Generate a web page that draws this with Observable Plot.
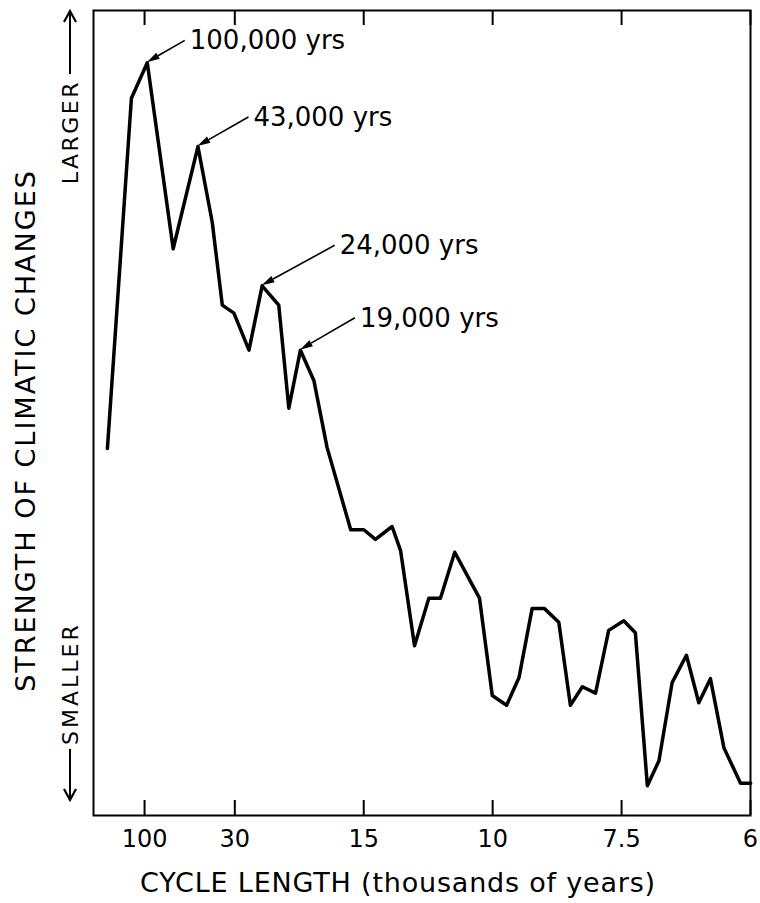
<!DOCTYPE html>
<html>
<head>
<meta charset="utf-8">
<script src="https://cdn.jsdelivr.net/npm/d3@7"></script>
<script src="https://cdn.jsdelivr.net/npm/@observablehq/plot@0.6"></script>
<style>
  html, body { margin: 0; padding: 0; background: #fff; }
</style>
</head>
<body>
<div id="chart"></div>
<script>
// Frequency (cycles per thousand years) of each spectral estimate
const frequency = [
  0.0004, 0.0066, 0.0107, 0.0174, 0.0238, 0.0275, 0.0301, 0.0331, 0.0370, 0.0404,
  0.0447, 0.0473, 0.0503, 0.0538, 0.0572, 0.0633, 0.0667, 0.0697, 0.0740, 0.0762,
  0.0798, 0.0835, 0.0865, 0.0902, 0.0939, 0.0966, 0.0999, 0.1036, 0.1068, 0.1102,
  0.1134, 0.1171, 0.1201, 0.1232, 0.1266, 0.1300, 0.1339, 0.1369, 0.1400, 0.1430,
  0.1464, 0.1501, 0.1533, 0.1563, 0.1598, 0.1641, 0.1667
];
// Strength of climatic changes (arbitrary units, 0 = bottom of frame, 100 = top)
const strength = [
  45.6, 89.1, 93.5, 70.4, 83.1, 73.7, 63.4, 62.4, 57.8, 65.8,
  63.4, 50.6, 57.8, 54.0, 45.7, 35.5, 35.5, 34.3, 35.9, 32.9,
  21.1, 27.0, 27.0, 32.7, 29.4, 27.0, 14.9, 13.7, 17.1, 25.7,
  25.7, 24.0, 13.7, 16.0, 15.2, 23.0, 24.2, 22.7, 3.7, 6.8,
  16.5, 19.9, 14.0, 17.0, 8.4, 4.0, 4.0
];
// Axis ticks: cycle length in thousands of years (frequency = 1 / length)
const tickLengths = [100, 30, 15, 10, 7.5, 6];
const tickLabels = ["100", "30", "15", "10", "7.5", "6"];
// Annotated peaks
const peakFrequencies = [0.0107, 0.0238, 0.0404, 0.0503];
const peakStrengths = [93.5, 83.1, 65.8, 57.8];
const peakLabels = ["100,000 yrs", "43,000 yrs", "24,000 yrs", "19,000 yrs"];
// Axis titles
const xTitle = "CYCLE LENGTH (thousands of years)";
const yTitle = "STRENGTH OF CLIMATIC CHANGES";

const points = frequency.map((f, i) => ({f, s: strength[i]}));
const tickFrequencies = tickLengths.map(d => 1 / d);
const labelFor = new Map(tickFrequencies.map((f, i) => [f, tickLabels[i]]));

// pixel offsets (arrow tail relative to peak) – styling of the callouts
const tailOffsets = [[38, -22], [51, -29], [73, -40], [55, -32]];

const callouts = (index, scales) => {
  const g = d3.create("svg:g");
  peakFrequencies.forEach((f, i) => {
    const px = scales.x(f), py = scales.y(peakStrengths[i]);
    const [ox, oy] = tailOffsets[i];
    const x1 = px + ox, y1 = py + oy;
    const ang = Math.atan2(py - y1, px - x1);
    const L = 13, W = 3.5;
    const bx = px - L * Math.cos(ang), by = py - L * Math.sin(ang);
    const nx = -Math.sin(ang), ny = Math.cos(ang);
    g.append("line")
      .attr("x1", x1).attr("y1", y1).attr("x2", bx).attr("y2", by)
      .attr("stroke", "black").attr("stroke-width", 1.6);
    g.append("path")
      .attr("d", `M${px},${py}L${bx + nx * W},${by + ny * W}L${bx - nx * W},${by - ny * W}Z`)
      .attr("fill", "black");
    g.append("text")
      .attr("x", x1 + 5).attr("y", y1)
      .attr("dy", "0.35em")
      .attr("text-anchor", "start")
      .attr("font-size", 26)
      .attr("fill", "black")
      .text(peakLabels[i]);
  });
  return g.node();
};

// Axis titles and "LARGER" / "SMALLER" side labels with long arrows
const titles = (index, scales, values, dimensions) => {
  const g = d3.create("svg:g").attr("fill", "black");
  const x = dimensions.marginLeft - 23;
  const top = scales.y(100), bottom = scales.y(0);
  const arrow = (y0, y1) => {
    const dir = Math.sign(y1 - y0);
    g.append("line").attr("x1", x).attr("y1", y0).attr("x2", x).attr("y2", y1)
      .attr("stroke", "black").attr("stroke-width", 2);
    g.append("path")
      .attr("d", `M${x - 6},${y1 - dir * 11}L${x},${y1}L${x + 6},${y1 - dir * 11}`)
      .attr("fill", "none").attr("stroke", "black").attr("stroke-width", 2.2);
  };
  arrow(top + 64, top + 1);
  arrow(bottom - 66, bottom - 15);
  g.append("text")
    .attr("transform", `translate(${x},${top + 70}) rotate(-90)`)
    .attr("text-anchor", "end").attr("dy", "0.35em")
    .attr("font-size", 22).attr("letter-spacing", "2.5px")
    .text("LARGER");
  g.append("text")
    .attr("transform", `translate(${x},${bottom - 70}) rotate(-90)`)
    .attr("text-anchor", "start").attr("dy", "0.35em")
    .attr("font-size", 22).attr("letter-spacing", "3px")
    .text("SMALLER");
  // y title (rotated)
  g.append("text")
    .attr("transform", `translate(${dimensions.marginLeft - 67},${(top + bottom) / 2 + 18}) rotate(-90)`)
    .attr("text-anchor", "middle").attr("dy", "0.35em")
    .attr("font-size", 27).attr("letter-spacing", "2px")
    .text(yTitle);
  // x title
  g.append("text")
    .attr("x", 398).attr("y", bottom + 68)
    .attr("text-anchor", "middle").attr("dy", "0.35em")
    .attr("font-size", 27).attr("letter-spacing", "0.8px")
    .text(xTitle);
  return g.node();
};

const chart = Plot.plot({
  width: 760,
  height: 903,
  marginLeft: 93,
  marginRight: 10,
  marginTop: 10,
  marginBottom: 88,
  style: {fontFamily: "DejaVu Sans", background: "#fff", color: "black"},
  x: {domain: [-0.0032, 1 / 6], axis: null},
  y: {domain: [0, 100], axis: null},
  marks: [
    Plot.frame({stroke: "black", strokeWidth: 2}),
    Plot.tickX(tickFrequencies, {x: d => d, insetTop: 790, stroke: "black", strokeWidth: 2}),
    Plot.tickX(tickFrequencies, {x: d => d, insetBottom: 790, stroke: "black", strokeWidth: 2}),
    Plot.axisX({
      anchor: "bottom", ticks: tickFrequencies, tickSize: 0, tickPadding: 14,
      tickFormat: d => labelFor.get(d), fontSize: 24, label: null
    }),
    titles,
    Plot.line(points, {
      x: "f", y: "s", stroke: "black", strokeWidth: 3.5,
      strokeLinejoin: "round", strokeLinecap: "round"
    }),
    callouts
  ]
});
document.getElementById("chart").append(chart);
</script>
</body>
</html>
